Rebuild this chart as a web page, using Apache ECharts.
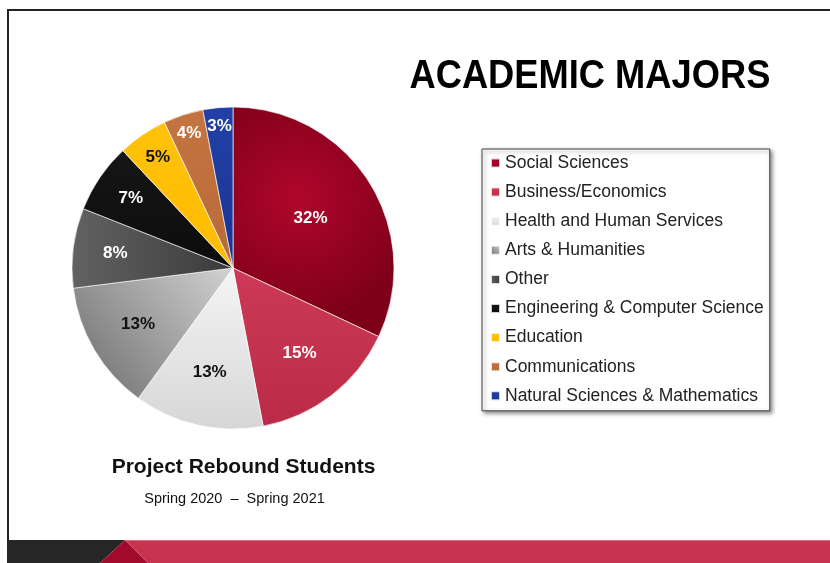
<!DOCTYPE html>
<html>
<head>
<meta charset="utf-8">
<script src="https://cdn.jsdelivr.net/npm/echarts@6/dist/echarts.min.js"></script>
<style>
  html, body { margin: 0; padding: 0; background: #fff; }
  #chart { width: 830px; height: 563px; }
</style>
</head>
<body>
<div id="chart"></div>
<script>
// data
const majors = [
  'Social Sciences',
  'Business/Economics',
  'Health and Human Services',
  'Arts & Humanities',
  'Other',
  'Engineering & Computer Science',
  'Education',
  'Communications',
  'Natural Sciences & Mathematics'
];
const shares = [32, 15, 13, 13, 8, 7, 5, 4, 3];

// styling (kept apart from the data)
const sliceFill = [
  ['#b0062c', '#7e0018'],
  ['#cc3a56', '#bb2a46'],
  ['#f5f5f5', '#d6d6d6'],
  ['#d2d2d2', '#6a6a6a'],
  ['#626262', '#3a3a3a'],
  ['#161616', '#0c0c0c'],
  ['#ffc20a', '#ffbb00'],
  ['#c4743f', '#b86a38'],
  ['#2240a6', '#1a3494']
];
const labelInk = ['#fff', '#fff', '#111', '#111', '#fff', '#fff', '#111', '#fff', '#fff'];
const labelRadius = [0.55, 0.65, 0.64, 0.66, 0.71, 0.74, 0.8, 0.85, 0.85];

const CX = 233, CY = 268, R = 161;

function fillFor(i) {
  const c = sliceFill[i];
  if (i === 0) {
    return new echarts.graphic.RadialGradient(0.4, 0.4, 0.75, [
      { offset: 0, color: c[0] }, { offset: 1, color: c[1] }
    ]);
  }
  if (i === 3) {
    return new echarts.graphic.LinearGradient(1, 0, 0, 1, [
      { offset: 0, color: c[0] }, { offset: 1, color: c[1] }
    ]);
  }
  if (i === 4) {
    return new echarts.graphic.LinearGradient(0, 0, 1, 0, [
      { offset: 0, color: c[0] }, { offset: 1, color: c[1] }
    ]);
  }
  return new echarts.graphic.LinearGradient(0, 0, 0, 1, [
    { offset: 0, color: c[0] }, { offset: 1, color: c[1] }
  ]);
}

const pieData = majors.map((name, i) => ({
  name: name,
  value: shares[i],
  itemStyle: { color: fillFor(i) },
  label: { color: labelInk[i] }
}));

const chart = echarts.init(document.getElementById('chart'));

const option = {
  animation: false,
  backgroundColor: '#fff',
  legend: {
    orient: 'vertical',
    left: 482,
    top: 149,
    padding: [4, 6, 5, 8],
    itemWidth: 9,
    itemHeight: 9,
    itemGap: 9.1,
    icon: 'rect',
    backgroundColor: '#fff',
    borderColor: '#444',
    borderWidth: 1,
    shadowColor: 'rgba(0,0,0,0.45)',
    shadowBlur: 4,
    shadowOffsetX: 2,
    shadowOffsetY: 2,
    textStyle: {
      fontFamily: 'Liberation Sans',
      fontSize: 17.5,
      lineHeight: 20,
      color: '#222'
    },
    data: majors
  },
  graphic: [
    // slide frame
    { type: 'rect', silent: true, shape: { x: 7, y: 9, width: 823, height: 2 }, style: { fill: '#222' } },
    { type: 'rect', silent: true, shape: { x: 7, y: 9, width: 2, height: 531 }, style: { fill: '#222' } },
    // footer band
    { type: 'polygon', silent: true, shape: { points: [[7, 540], [125, 540], [100, 563], [7, 563]] }, style: { fill: '#262626' } },
    { type: 'polygon', silent: true, shape: { points: [[125, 540], [100, 563], [148, 563]] }, style: { fill: '#a10a2c' } },
    { type: 'polygon', silent: true, shape: { points: [[125, 540], [830, 540], [830, 563], [148, 563]] }, style: { fill: '#c8334f' } },
    { type: 'rect', silent: true, shape: { x: 125, y: 540, width: 705, height: 1 }, style: { fill: '#d9707f' } },
    // headings
    {
      type: 'text', x: 409.5, y: 77, scaleX: 0.885,
      style: { text: 'ACADEMIC MAJORS', font: 'bold 41px "Liberation Sans"', fill: '#000', textAlign: 'left', textVerticalAlign: 'middle' }
    },
    {
      type: 'text', x: 243.5, y: 467,
      style: { text: 'Project Rebound Students', font: 'bold 21px "Liberation Sans"', fill: '#111', textAlign: 'center', textVerticalAlign: 'middle' }
    },
    {
      type: 'text', x: 234.5, y: 499,
      style: { text: 'Spring 2020  \u2013  Spring 2021', font: '14.5px "Liberation Sans"', fill: '#111', textAlign: 'center', textVerticalAlign: 'middle' }
    }
  ],
  series: [{
    type: 'pie',
    center: [CX, CY],
    radius: [0, R],
    startAngle: 90,
    clockwise: true,
    avoidLabelOverlap: false,
    itemStyle: { borderColor: 'rgba(255,255,255,0.8)', borderWidth: 0.8 },
    label: {
      show: true,
      position: 'inside',
      formatter: '{c}%',
      fontFamily: 'Liberation Sans',
      fontWeight: 'bold',
      fontSize: 17
    },
    labelLine: { show: false },
    emphasis: { disabled: true },
    labelLayout: function (p) {
      const r = p.labelRect;
      const vx = r.x + r.width / 2 - CX;
      const vy = r.y + r.height / 2 - CY;
      const f = labelRadius[p.dataIndex] / 0.5 - 1;
      return { dx: vx * f, dy: vy * f };
    },
    data: pieData
  }]
};

chart.setOption(option);
</script>
</body>
</html>
